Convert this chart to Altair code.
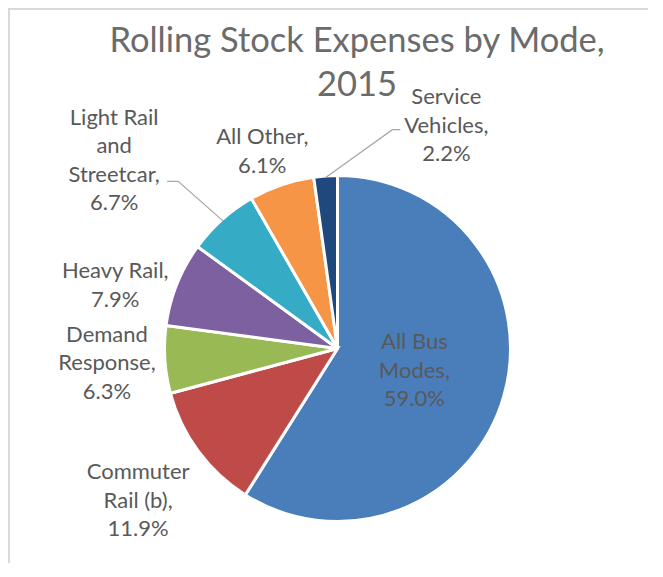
import math
import altair as alt
import pandas as pd

# ---------------- data ----------------
categories = ["All Bus Modes", "Commuter Rail (b)", "Demand Response", "Heavy Rail",
              "Light Rail and Streetcar", "All Other", "Service Vehicles"]
shares = [59.0, 11.9, 6.3, 7.9, 6.7, 6.1, 2.2]
label_names = [["All Bus", "Modes,"], ["Commuter", "Rail (b),"], ["Demand", "Response,"],
               ["Heavy Rail,"], ["Light Rail", "and", "Streetcar,"], ["All Other,"],
               ["Service", "Vehicles,"]]
title_lines = ["Rolling Stock Expenses by Mode,", "2015"]

# ---------------- style / layout ----------------
colors = ["#4A7EBB", "#BE4B48", "#98B954", "#7D60A0", "#35ABC6", "#F69546", "#1F497D"]
W, H = 640, 555
CX, CY = 329.5, 340.5
R = 171.5
LH = 28.5
label_radius = [80, 251, 231, 231, 292, 211, 248]
label_nudge = [0, -1, 0, -6, -8, -2, 30]          # degrees
leader = {4: ((53, 21), 11), 6: ((-46, 4), -8)}   # label index -> (end offset, elbow dx)
FONT = "Lato"
TXT = "#595959"

total = sum(shares)
rows, labs, lines = [], [], []
cum = 0.0
for i, (c, v) in enumerate(zip(categories, shares)):
    mid = (cum + v / 2) / total * 2 * math.pi
    cum += v
    rows.append({"cat": c, "value": v, "idx": i})
    a = mid + math.radians(label_nudge[i])
    lx = CX + label_radius[i] * math.sin(a)
    ly = CY - label_radius[i] * math.cos(a)
    parts = label_names[i] + [f"{v:.1f}%"]
    labs.append({"lx": lx, "ly": ly - (len(parts) - 1) * LH / 2, "txt": "\n".join(parts)})
    if i in leader:
        (ox, oy), edx = leader[i]
        sx, sy = CX + R * math.sin(mid), CY - R * math.cos(mid)
        ex, ey = lx + ox, ly + oy
        for k, (px, py) in enumerate([(sx, sy), (ex + edx, ey), (ex, ey)]):
            lines.append({"seg": i, "k": k, "px": px, "py": py})

df = pd.DataFrame(rows)
lab_df = pd.DataFrame(labs)
line_df = pd.DataFrame(lines)

pie = alt.Chart(df).mark_arc(outerRadius=173, stroke="white", strokeWidth=3).encode(
    theta=alt.Theta("value:Q", stack=True),
    order=alt.Order("idx:Q"),
    color=alt.Color("cat:N", scale=alt.Scale(domain=categories, range=colors), legend=None),
    x=alt.value(CX),
    y=alt.value(CY),
)

leaders = alt.Chart(line_df).mark_line(color="#A6A6A6", strokeWidth=1.2).encode(
    x=alt.X("px:Q", scale=None, axis=None),
    y=alt.Y("py:Q", scale=None, axis=None),
    detail="seg:N",
    order="k:Q",
)

labels = alt.Chart(lab_df).mark_text(
    font=FONT, fontSize=22, color=TXT, lineBreak="\n", lineHeight=LH,
    align="center", baseline="middle",
).encode(
    x=alt.X("lx:Q", scale=None, axis=None),
    y=alt.Y("ly:Q", scale=None, axis=None),
    text="txt:N",
)

title = alt.Chart(pd.DataFrame({"t": ["\n".join(title_lines)]})).mark_text(
    font=FONT, fontSize=34.5, color="#6B6B6B", lineBreak="\n", lineHeight=44,
    align="center", baseline="alphabetic",
).encode(x=alt.value(349), y=alt.value(44), text="t:N")

frame = alt.Chart(pd.DataFrame({"a": [0]})).mark_rule(color="#D9D9D9", strokeWidth=2).encode(
    x=alt.value(1), y=alt.value(0), y2=alt.value(H)
) + alt.Chart(pd.DataFrame({"a": [0]})).mark_rule(color="#D9D9D9", strokeWidth=2).encode(
    x=alt.value(0), x2=alt.value(W), y=alt.value(1)
)

chart = alt.layer(frame, pie, leaders, labels, title).properties(
    width=W, height=H, padding=0, autosize=alt.AutoSizeParams(type="none")
).configure_view(stroke=None)

chart.save("out.html", embed_options={"renderer": "svg", "actions": False})
